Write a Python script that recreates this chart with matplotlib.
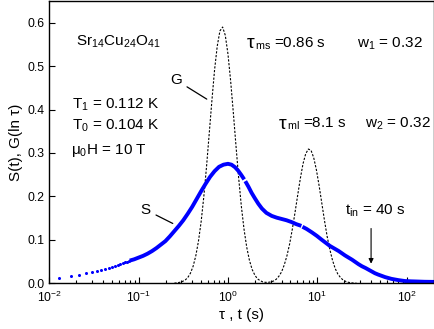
"""Relaxation S(t) and distribution G(ln tau) for Sr14Cu24O41."""

import numpy as np
import matplotlib

matplotlib.use("Agg")  # Use non-interactive backend
import matplotlib.pyplot as plt

# G(ln tau): sampled at log10(tau)
g_logtau = [-0.60, -0.57, -0.54, -0.51, -0.48, -0.45, -0.42, -0.39, -0.36, -0.33,
            -0.30, -0.27, -0.24, -0.21, -0.18, -0.15, -0.12, -0.09, -0.06, -0.03,
            0.00, 0.03, 0.06, 0.09, 0.12, 0.15, 0.18, 0.21, 0.24, 0.27,
            0.30, 0.33, 0.36, 0.39, 0.42, 0.45, 0.48, 0.51, 0.54, 0.57,
            0.60, 0.63, 0.66, 0.69, 0.72, 0.75, 0.78, 0.81, 0.84, 0.87,
            0.90, 0.93, 0.96, 0.99, 1.02, 1.05, 1.08, 1.11, 1.14, 1.17,
            1.20, 1.23, 1.26, 1.29, 1.32, 1.35, 1.38, 1.41, 1.44]
g_values = [0.000, 0.001, 0.002, 0.004, 0.007, 0.013, 0.023, 0.039, 0.063, 0.097,
            0.142, 0.200, 0.268, 0.344, 0.420, 0.491, 0.546, 0.581, 0.590, 0.571,
            0.528, 0.466, 0.393, 0.316, 0.242, 0.177, 0.124, 0.083, 0.053, 0.032,
            0.019, 0.010, 0.006, 0.003, 0.002, 0.002, 0.003, 0.005, 0.009, 0.016,
            0.026, 0.042, 0.063, 0.090, 0.124, 0.162, 0.202, 0.241, 0.275, 0.298,
            0.309, 0.306, 0.289, 0.261, 0.225, 0.185, 0.145, 0.108, 0.078, 0.053,
            0.034, 0.021, 0.013, 0.007, 0.004, 0.002, 0.001, 0.000, 0.000]

# S(t): early sparse data points
s_dot_t = [0.0128, 0.0175, 0.0217, 0.0258, 0.0299, 0.0340, 0.0380, 0.0421, 0.0462,
           0.0503, 0.0544, 0.0585, 0.0626, 0.0667, 0.0708, 0.0749, 0.0790]
s_dot_values = [0.013, 0.016, 0.020, 0.023, 0.026, 0.028, 0.031, 0.033, 0.035,
                0.037, 0.039, 0.041, 0.044, 0.046, 0.048, 0.049, 0.051]

# S(t): dense part, log10(t); nan marks small gaps in the data
nan = float("nan")
s_logt = [-1.10, -1.05, -1.00, -0.95, -0.90, -0.85, -0.80, -0.75, -0.70, -0.65,
          -0.60, -0.55, -0.50, -0.45, -0.40, -0.35, -0.30, -0.25, -0.20, -0.15,
          -0.10, -0.05, 0.00, 0.04, 0.08, 0.115, 0.15, 0.182, nan, 0.194,
          0.23, 0.265, 0.30, 0.34, 0.38, 0.43, 0.49, 0.545, 0.60, 0.655,
          0.71, 0.765, 0.822, nan, 0.834, 0.88, 0.94, 0.995, 1.05, 1.095,
          1.14, 1.19, 1.24, 1.275, 1.31, 1.35, 1.39, 1.425, 1.46, 1.50,
          1.54, 1.575, 1.61, 1.645, 1.68, 1.72, 1.76, 1.795, 1.83, 1.87,
          1.91, 1.98, 2.05, 2.10, 2.20, 2.31]
s_values = [0.052, 0.055, 0.059, 0.063, 0.068, 0.074, 0.081, 0.089, 0.097, 0.108,
            0.120, 0.132, 0.145, 0.160, 0.176, 0.194, 0.212, 0.229, 0.245, 0.258,
            0.268, 0.273, 0.275, 0.273, 0.267, 0.259, 0.249, 0.239, nan, 0.235,
            0.222, 0.208, 0.196, 0.183, 0.172, 0.162, 0.155, 0.151, 0.148, 0.145,
            0.141, 0.136, 0.132, nan, 0.130, 0.125, 0.117, 0.109, 0.100, 0.093,
            0.086, 0.080, 0.074, 0.069, 0.064, 0.059, 0.054, 0.049, 0.044, 0.039,
            0.035, 0.031, 0.027, 0.023, 0.020, 0.017, 0.014, 0.012, 0.010, 0.0085,
            0.007, 0.005, 0.0043, 0.004, 0.0033, 0.003]

t_in = 40

plt.rcParams["font.family"] = ["Liberation Sans", "DejaVu Sans"]
plt.rcParams["mathtext.fontset"] = "custom"
plt.rcParams["mathtext.rm"] = "Liberation Sans"
plt.rcParams["mathtext.it"] = "Liberation Sans:italic"
plt.rcParams["mathtext.bf"] = "Liberation Sans:bold"

fig = plt.figure(figsize=(4.35, 3.29), dpi=100)
ax = fig.add_axes([0.1133, 0.1392, 0.8833, 0.8578])

g_tau = np.power(10.0, g_logtau)
s_t = np.power(10.0, s_logt)

ax.plot(g_tau, g_values, color="black", lw=0.8, linestyle=(0, (2.0, 1.4)))
ax.plot(s_dot_t, s_dot_values, linestyle="none", marker="o", ms=2.2,
        mec="none", color="#0000ff")
ax.plot(s_t, s_values, color="#0000ff", lw=2.8, solid_capstyle="butt",
        solid_joinstyle="round")

ax.set_xscale("log")
ax.set_xlim(0.01, 200)
ax.set_ylim(0, 0.65)
ax.set_yticks([0.0, 0.1, 0.2, 0.3, 0.4, 0.5, 0.6])
ax.yaxis.set_major_formatter(matplotlib.ticker.FormatStrFormatter("%.1f"))
ax.tick_params(which="both", direction="in", labelsize=8.7)
ax.tick_params(which="major", length=4, width=0.8)
ax.tick_params(which="minor", length=2, width=0.8)
ax.tick_params(axis="x", pad=5)
for sp in ax.spines.values():
    sp.set_linewidth(1.0)

ax.set_xlabel("τ , t (s)", fontsize=11, labelpad=2)
ax.set_ylabel("S(t), G(ln τ)", fontsize=11, labelpad=3)

fs = 11
ax.text(0.020, 0.555, r"Sr$_{14}$Cu$_{24}$O$_{41}$", fontsize=fs, va="center")
ax.text(0.0179, 0.412, r"T$_1$ = 0.112 K", fontsize=fs, va="center")
ax.text(0.0179, 0.362, r"T$_0$ = 0.104 K", fontsize=fs, va="center")
ax.text(0.0175, 0.306, r"μ$_0$H = 10 T", fontsize=fs, va="center")
ax.text(1.61, 0.551, "τ", fontsize=14, va="center")
ax.text(2.02, 0.551, r"$_{\rm ms}$ =0.86 s", fontsize=fs, va="center")
ax.text(27.7, 0.551, r"w$_1$ = 0.32", fontsize=fs, va="center")
ax.text(3.66, 0.366, "τ", fontsize=14, va="center")
ax.text(4.6, 0.366, r"$_{\rm ml}$ =8.1 s", fontsize=fs, va="center")
ax.text(34.3, 0.366, r"w$_2$ = 0.32", fontsize=fs, va="center")
ax.text(20.5, 0.166, r"t$_{\rm in}$ = 40 s", fontsize=fs, va="center")

ax.annotate("G", xy=(0.579, 0.424), xytext=(0.262, 0.468), fontsize=fs,
            ha="center", va="center",
            arrowprops=dict(arrowstyle="-", color="black", lw=0.9, shrinkA=2, shrinkB=0))
ax.annotate("S", xy=(0.241, 0.1376), xytext=(0.120, 0.169), fontsize=fs,
            ha="center", va="center",
            arrowprops=dict(arrowstyle="-", color="black", lw=0.9, shrinkA=2, shrinkB=0))
ax.annotate("", xy=(t_in, 0.045), xytext=(t_in, 0.126),
            arrowprops=dict(arrowstyle="-|>", color="black", lw=0.8,
                            mutation_scale=7, shrinkA=0, shrinkB=0))

fig.savefig("out.png", dpi=100)
